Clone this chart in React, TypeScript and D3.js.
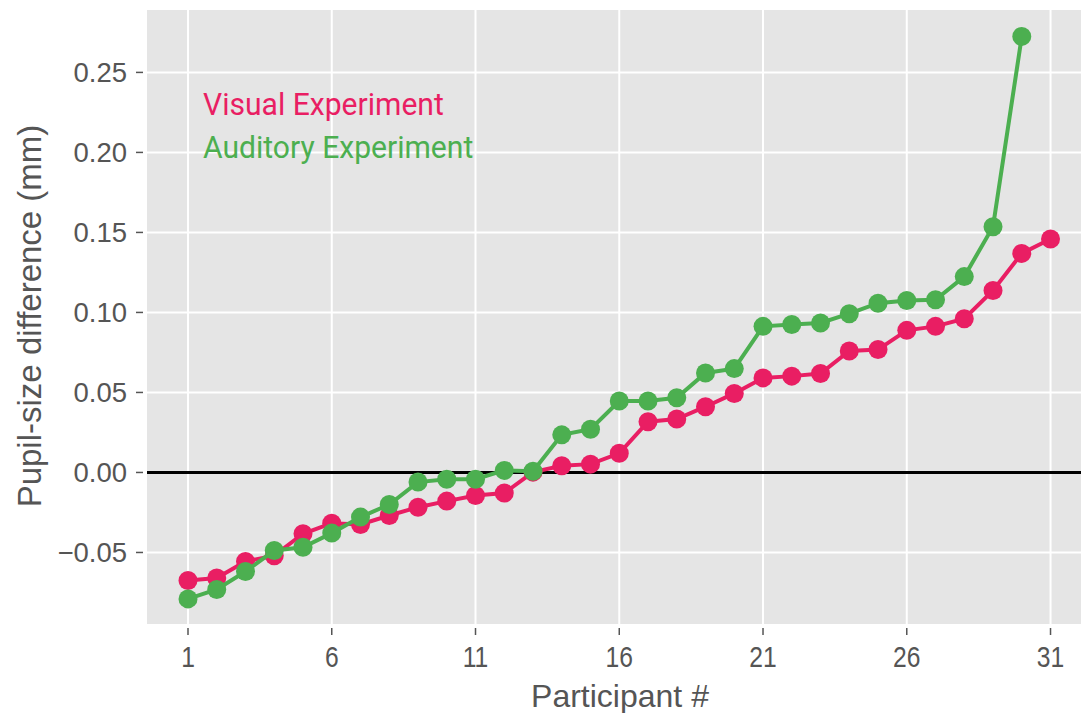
import React from "react";
import * as d3 from "d3";

// participant numbers and pupil-size differences (mm)
const visualValues = [
  -0.0675, -0.066, -0.0556, -0.052, -0.0383, -0.0317, -0.0325, -0.0269, -0.0217, -0.0179,
  -0.0144, -0.0129, 0.0002, 0.0042, 0.0052, 0.012, 0.0317, 0.0334, 0.0411, 0.0494,
  0.0591, 0.0602, 0.0618, 0.0759, 0.0768, 0.0888, 0.0913, 0.0961, 0.1137, 0.1369, 0.1459,
];
const auditoryValues = [
  -0.079, -0.0731, -0.0619, -0.0488, -0.0467, -0.0379, -0.0279, -0.02, -0.006, -0.0042,
  -0.0042, 0.0013, 0.0008, 0.0235, 0.027, 0.0446, 0.0446, 0.0467, 0.0622, 0.0649,
  0.0913, 0.0925, 0.0934, 0.0992, 0.1058, 0.1075, 0.1079, 0.1224, 0.1536, 0.2725,
];
const xTicks = [1, 6, 11, 16, 21, 26, 31];
const yTicks = [-0.05, 0.0, 0.05, 0.1, 0.15, 0.2, 0.25];

const seriesList = [
  { name: "Visual Experiment", color: "#e91e63", values: visualValues },
  { name: "Auditory Experiment", color: "#4caf50", values: auditoryValues },
];

const width = 1081;
const height = 713;
const plot = { left: 147, right: 1081, top: 10, bottom: 624 };

const sans = "'Liberation Sans', Arial, sans-serif";

export default function App() {
  const x = d3.scaleLinear().domain([-0.426, 32.06]).range([plot.left, plot.right]);
  const y = d3.scaleLinear().domain([-0.0947, 0.289]).range([plot.bottom, plot.top]);

  const line = d3
    .line<number>()
    .x((_, i) => x(i + 1))
    .y((d) => y(d));

  return (
    <svg
      width={width}
      height={height}
      style={{ position: "absolute", left: 0, top: 0, background: "white" }}
    >
      <rect
        x={plot.left}
        y={plot.top}
        width={plot.right - plot.left}
        height={plot.bottom - plot.top}
        fill="#e5e5e5"
      />
      {/* grid */}
      {xTicks.map((t) => (
        <line key={"gx" + t} x1={x(t)} x2={x(t)} y1={plot.top} y2={plot.bottom} stroke="white" strokeWidth={2} />
      ))}
      {yTicks.map((t) => (
        <line key={"gy" + t} x1={plot.left} x2={plot.right} y1={y(t)} y2={y(t)} stroke="white" strokeWidth={2} />
      ))}
      {/* zero line */}
      <line x1={plot.left} x2={plot.right} y1={y(0)} y2={y(0)} stroke="black" strokeWidth={3} />

      {seriesList.map((s) => (
        <g key={s.name}>
          <path d={line(s.values) || ""} fill="none" stroke={s.color} strokeWidth={4} />
          {s.values.map((v, i) => (
            <circle key={i} cx={x(i + 1)} cy={y(v)} r={9.5} fill={s.color} />
          ))}
        </g>
      ))}

      {/* y axis */}
      {yTicks.map((t) => (
        <g key={"ty" + t}>
          <line x1={136} x2={143} y1={y(t)} y2={y(t)} stroke="#555" strokeWidth={1.5} />
          <text
            x={127}
            y={y(t)}
            dy="0.35em"
            textAnchor="end"
            fontFamily={sans}
            fontSize={27.5}
            fill="#555"
          >
            {d3.format(".2f")(t).replace("-", "\u2212")}
          </text>
        </g>
      ))}
      {/* x axis */}
      {xTicks.map((t) => (
        <g key={"tx" + t}>
          <line x1={x(t)} x2={x(t)} y1={628} y2={635} stroke="#555" strokeWidth={1.5} />
          <text
            transform={`translate(${x(t)}, 667) scale(0.85, 1)`}
            textAnchor="middle"
            fontFamily={sans}
            fontSize={29}
            fill="#555"
          >
            {t}
          </text>
        </g>
      ))}

      <text x={620} y={707} textAnchor="middle" fontFamily={sans} fontSize={32} fill="#555">
        Participant #
      </text>
      <text
        transform={`translate(41, ${(117 + 515) / 2}) rotate(-90)`}
        textAnchor="middle"
        fontFamily={sans}
        fontSize={33}
        fill="#555"
      >
        Pupil-size difference (mm)
      </text>

      {/* legend */}
      {seriesList.map((s, i) => (
        <text
          key={"lg" + s.name}
          transform={`translate(203, ${115 + i * 43}) scale(0.94, 1)`}
          fontFamily="Roboto, sans-serif"
          fontSize={32}
          fill={s.color}
        >
          {s.name}
        </text>
      ))}
    </svg>
  );
}
